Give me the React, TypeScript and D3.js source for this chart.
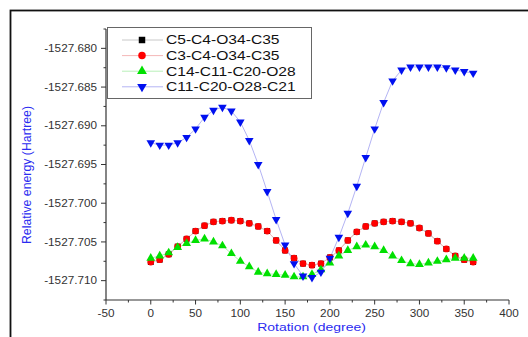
import React, { useEffect, useRef } from 'react';
import * as d3 from 'd3';

// rotation angles (degree)
const angles = [0, 10, 20, 30, 40, 50, 60, 70, 80, 90, 100, 110, 120, 130, 140, 150, 160, 170, 180,
  190, 200, 210, 220, 230, 240, 250, 260, 270, 280, 290, 300, 310, 320, 330, 340, 350, 360];

// energies, Hartree
const c3c4o34c35 = [-1527.7076, -1527.7073, -1527.7066, -1527.7056, -1527.7046, -1527.7036, -1527.7029,
  -1527.7024, -1527.7023, -1527.7022, -1527.7023, -1527.7026, -1527.7030, -1527.7036, -1527.7048,
  -1527.7061, -1527.7071, -1527.7078, -1527.7080, -1527.7078, -1527.7070, -1527.7061, -1527.7048,
  -1527.7037, -1527.7030, -1527.7026, -1527.7024, -1527.7023, -1527.7024, -1527.7026, -1527.7032,
  -1527.7039, -1527.7049, -1527.7059, -1527.7068, -1527.7073, -1527.7076];
const c5c4o34c35 = c3c4o34c35.slice();
const c14c11c20o28 = [-1527.7071, -1527.7068, -1527.7064, -1527.7057, -1527.7052, -1527.7048, -1527.7046,
  -1527.7050, -1527.7055, -1527.7065, -1527.7075, -1527.7082, -1527.7089, -1527.7091, -1527.7092,
  -1527.7093, -1527.7095, -1527.7095, -1527.7092, -1527.7086, -1527.7077, -1527.7068, -1527.7061,
  -1527.7056, -1527.7054, -1527.7056, -1527.7061, -1527.7068, -1527.7074, -1527.7078, -1527.7079,
  -1527.7077, -1527.7075, -1527.7073, -1527.7071, -1527.7071, -1527.7071];
const c11c20o28c21 = [-1527.6922, -1527.6925, -1527.6925, -1527.6922, -1527.6915, -1527.6904, -1527.6889,
  -1527.6880, -1527.6876, -1527.6881, -1527.6895, -1527.6919, -1527.6950, -1527.6985, -1527.7021,
  -1527.7054, -1527.7078, -1527.7094, -1527.7096, -1527.7089, -1527.7071, -1527.7044, -1527.7013,
  -1527.6978, -1527.6941, -1527.6904, -1527.6870, -1527.6842, -1527.6828, -1527.6824, -1527.6824,
  -1527.6824, -1527.6824, -1527.6825, -1527.6828, -1527.6830, -1527.6832];

const xTicks = [-50, 0, 50, 100, 150, 200, 250, 300, 350, 400];
const yTicks = [-1527.710, -1527.705, -1527.700, -1527.695, -1527.690, -1527.685, -1527.680];

export default function App() {
  const svgRef = useRef<SVGSVGElement>(null);

  useEffect(() => {
    const svg = d3.select(svgRef.current);
    svg.selectAll('*').remove();

    const W = 528, H = 337;
    const left = 106, right = 509, top = 29, bottom = 300;

    svg.append('rect').attr('width', W).attr('height', H).attr('fill', '#fff');
    // outer frame
    svg.append('rect')
      .attr('x', 10.5).attr('y', 10.5).attr('width', W + 20).attr('height', H + 20)
      .attr('fill', 'none').attr('stroke', '#111').attr('stroke-width', 1.8);

    const x = d3.scaleLinear().domain([-50, 400]).range([left, right]);
    const y = d3.scaleLinear().domain([-1527.7125, -1527.6775]).range([bottom, top]);

    // x axis
    const gx = svg.append('g').attr('transform', `translate(0,${bottom})`);
    gx.append('line').attr('x1', left).attr('x2', right).attr('stroke', '#333').attr('stroke-width', 1.2);
    d3.range(-50, 401, 25).forEach(v => {
      const major = v % 50 === 0;
      gx.append('line').attr('x1', x(v)).attr('x2', x(v)).attr('y1', 0).attr('y2', major ? 4.5 : 2.5)
        .attr('stroke', '#333').attr('stroke-width', 1);
    });
    xTicks.forEach(v => {
      gx.append('text')
        .attr('transform', `translate(${x(v)},17) scale(1.15,1)`)
        .attr('text-anchor', 'middle')
        .attr('font-family', 'Arial, "Liberation Sans", sans-serif')
        .attr('font-size', 10.2).attr('fill', '#333')
        .text(String(v));
    });

    // y axis
    const gy = svg.append('g').attr('transform', `translate(${left},0)`);
    gy.append('line').attr('y1', top).attr('y2', bottom).attr('stroke', '#333').attr('stroke-width', 1.2);
    d3.range(0, 8).forEach(i => {
      const v = -1527.7125 + i * 0.005;
      [v, v + 0.0025].forEach((t, j) => {
        if (t > -1527.6775 + 1e-9) return;
        gy.append('line').attr('x1', j === 0 ? -2.5 : -5).attr('x2', 0).attr('y1', y(t)).attr('y2', y(t))
          .attr('stroke', '#333').attr('stroke-width', 1);
      });
    });
    yTicks.forEach(v => {
      gy.append('text')
        .attr('transform', `translate(-9,${y(v) + 3.6}) scale(1.15,1)`)
        .attr('text-anchor', 'end')
        .attr('font-family', 'Arial, "Liberation Sans", sans-serif')
        .attr('font-size', 10.2).attr('fill', '#333')
        .text(v.toFixed(3));
    });

    // axis titles
    svg.append('text')
      .attr('transform', `translate(${(left + right) / 2 + 4},331) scale(1.27,1)`)
      .attr('text-anchor', 'middle')
      .attr('font-family', 'Arial, "Liberation Sans", sans-serif')
      .attr('font-size', 11).attr('fill', '#2b2bf0')
      .text('Rotation (degree)');
    svg.append('text')
      .attr('transform', `translate(31,175) rotate(-90)`)
      .attr('text-anchor', 'middle')
      .attr('font-family', 'Arial, "Liberation Sans", sans-serif')
      .attr('font-size', 12.3).attr('fill', '#2b2bf0')
      .text('Relative energy (Hartree)');

    const series = [
      { name: 'C5-C4-O34-C35', values: c5c4o34c35, line: '#c8c8c8', fill: '#000', shape: d3.symbolSquare, size: 34, rot: 0 },
      { name: 'C3-C4-O34-C35', values: c3c4o34c35, line: '#f4b8b8', fill: '#f00', shape: d3.symbolCircle, size: 36, rot: 0 },
      { name: 'C14-C11-C20-O28', values: c14c11c20o28, line: '#b8f0b8', fill: '#00e000', shape: d3.symbolTriangle, size: 34, rot: 0 },
      { name: 'C11-C20-O28-C21', values: c11c20o28c21, line: '#b4b4f4', fill: '#0010f0', shape: d3.symbolTriangle, size: 32, rot: 180 },
    ];

    const line = d3.line<number>().x((_, i) => x(angles[i])).y(d => y(d));
    series.forEach(s => {
      svg.append('path').attr('d', line(s.values)).attr('fill', 'none')
        .attr('stroke', s.line).attr('stroke-width', 1);
    });
    series.forEach(s => {
      const sym = d3.symbol().type(s.shape).size(s.size);
      svg.append('g').selectAll('path').data(s.values).join('path')
        .attr('d', sym())
        .attr('transform', (d, i) => `translate(${x(angles[i])},${y(d)}) rotate(${s.rot})`)
        .attr('fill', s.fill);
    });

    // legend
    const lg = svg.append('g');
    lg.append('rect').attr('x', 107.5).attr('y', 27.5).attr('width', 204).attr('height', 71)
      .attr('fill', '#fff').attr('stroke', '#666').attr('stroke-width', 1);
    series.forEach((s, i) => {
      const yy = 40 + i * 15.6;
      lg.append('line').attr('x1', 122).attr('x2', 163).attr('y1', yy).attr('y2', yy)
        .attr('stroke', s.line).attr('stroke-width', 1);
      lg.append('path').attr('d', d3.symbol().type(s.shape).size(s.size + 8)())
        .attr('transform', `translate(142,${yy}) rotate(${s.rot})`).attr('fill', s.fill);
      lg.append('text')
        .attr('transform', `translate(166,${yy + 4.3}) scale(1.3,1)`)
        .attr('font-family', 'Arial, "Liberation Sans", sans-serif')
        .attr('font-size', 12).attr('fill', '#111')
        .text(s.name);
    });
  }, []);

  return (
    <svg ref={svgRef} width={528} height={337}
      style={{ position: 'absolute', left: 0, top: 0, display: 'block' }} />
  );
}
